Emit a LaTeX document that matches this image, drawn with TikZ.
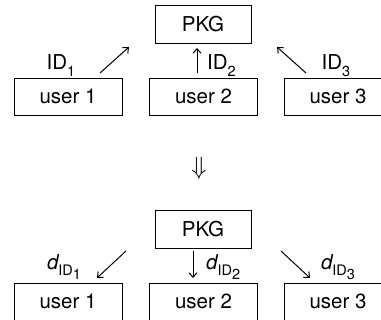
\documentclass[tikz,border=0pt]{standalone}
\usepackage{fontspec}
\setmainfont{TeX Gyre Heros}
\usetikzlibrary{arrows.meta}
\newcommand{\bigfs}{\fontsize{20.5}{22}\selectfont}
\newcommand{\subfs}{\fontsize{14.5}{16}\selectfont}
\newcommand{\dlab}[1]{{\itshape d}\raisebox{-0.25em}{\subfs ID\raisebox{-0.3em}{#1}}}
\newcommand{\idlab}[1]{ID\raisebox{-0.3em}{\subfs #1}}
\begin{document}
\begin{tikzpicture}[x=1pt,y=-1pt,
  box/.style={draw, line width=0.8pt, minimum width=108pt, minimum height=37pt, inner sep=0pt, font=\bigfs},
  pkgbox/.style={box, minimum width=96pt, minimum height=38pt},
  arr/.style={line width=1pt, -{Straight Barb[length=4.5pt,width=8pt]}},
  lab/.style={font=\bigfs, inner sep=0pt}]
\useasboundingbox (0,0) rectangle (381,320);
\clip (0,0) rectangle (381,320);
% top
\node[pkgbox] (pkgA) at (203,24) {PKG};
\node[box] (uA1) at (68,96.5) {user 1};
\node[box] (uA2) at (203.5,96.5) {user 2};
\node[box] (uA3) at (338,96.5) {user 3};
\coordinate (a1s) at (100,73); \coordinate (a1e) at (129,47);
\coordinate (a2s) at (197,73); \coordinate (a2e) at (197,48);
\coordinate (a3s) at (306,73); \coordinate (a3e) at (277,47);
\draw[arr] (a1s) -- (a1e);
\draw[arr] (a2s) -- (a2e);
\draw[arr] (a3s) -- (a3e);
\node[lab, anchor=base] (l1) at (61,70) {\idlab{1}};
\node[lab, anchor=base west] (l2) at (207,70) {\idlab{2}};
\node[lab, anchor=base] (l3) at (336,70) {\idlab{3}};
% middle
\node[lab, font=\fontsize{26}{28}\selectfont] (dd) at (199,168) {$\Downarrow$};
% bottom
\node[pkgbox] (pkgB) at (203,229.5) {PKG};
\node[box] (uB1) at (68,301.5) {user 1};
\node[box] (uB2) at (203.5,301.5) {user 2};
\node[box] (uB3) at (338,301.5) {user 3};
\coordinate (b1s) at (126,251); \coordinate (b1e) at (97,278);
\coordinate (b2s) at (193,251); \coordinate (b2e) at (193,278);
\coordinate (b3s) at (281,251); \coordinate (b3e) at (310,278);
\draw[arr] (b1s) -- (b1e);
\draw[arr] (b2s) -- (b2e);
\draw[arr] (b3s) -- (b3e);
\node[lab, anchor=base] (m1) at (64,270) {\dlab{1}};
\node[lab, anchor=base west] (m2) at (206,270) {\dlab{2}};
\node[lab, anchor=base] (m3) at (338,270) {\dlab{3}};
\end{tikzpicture}
\end{document}
